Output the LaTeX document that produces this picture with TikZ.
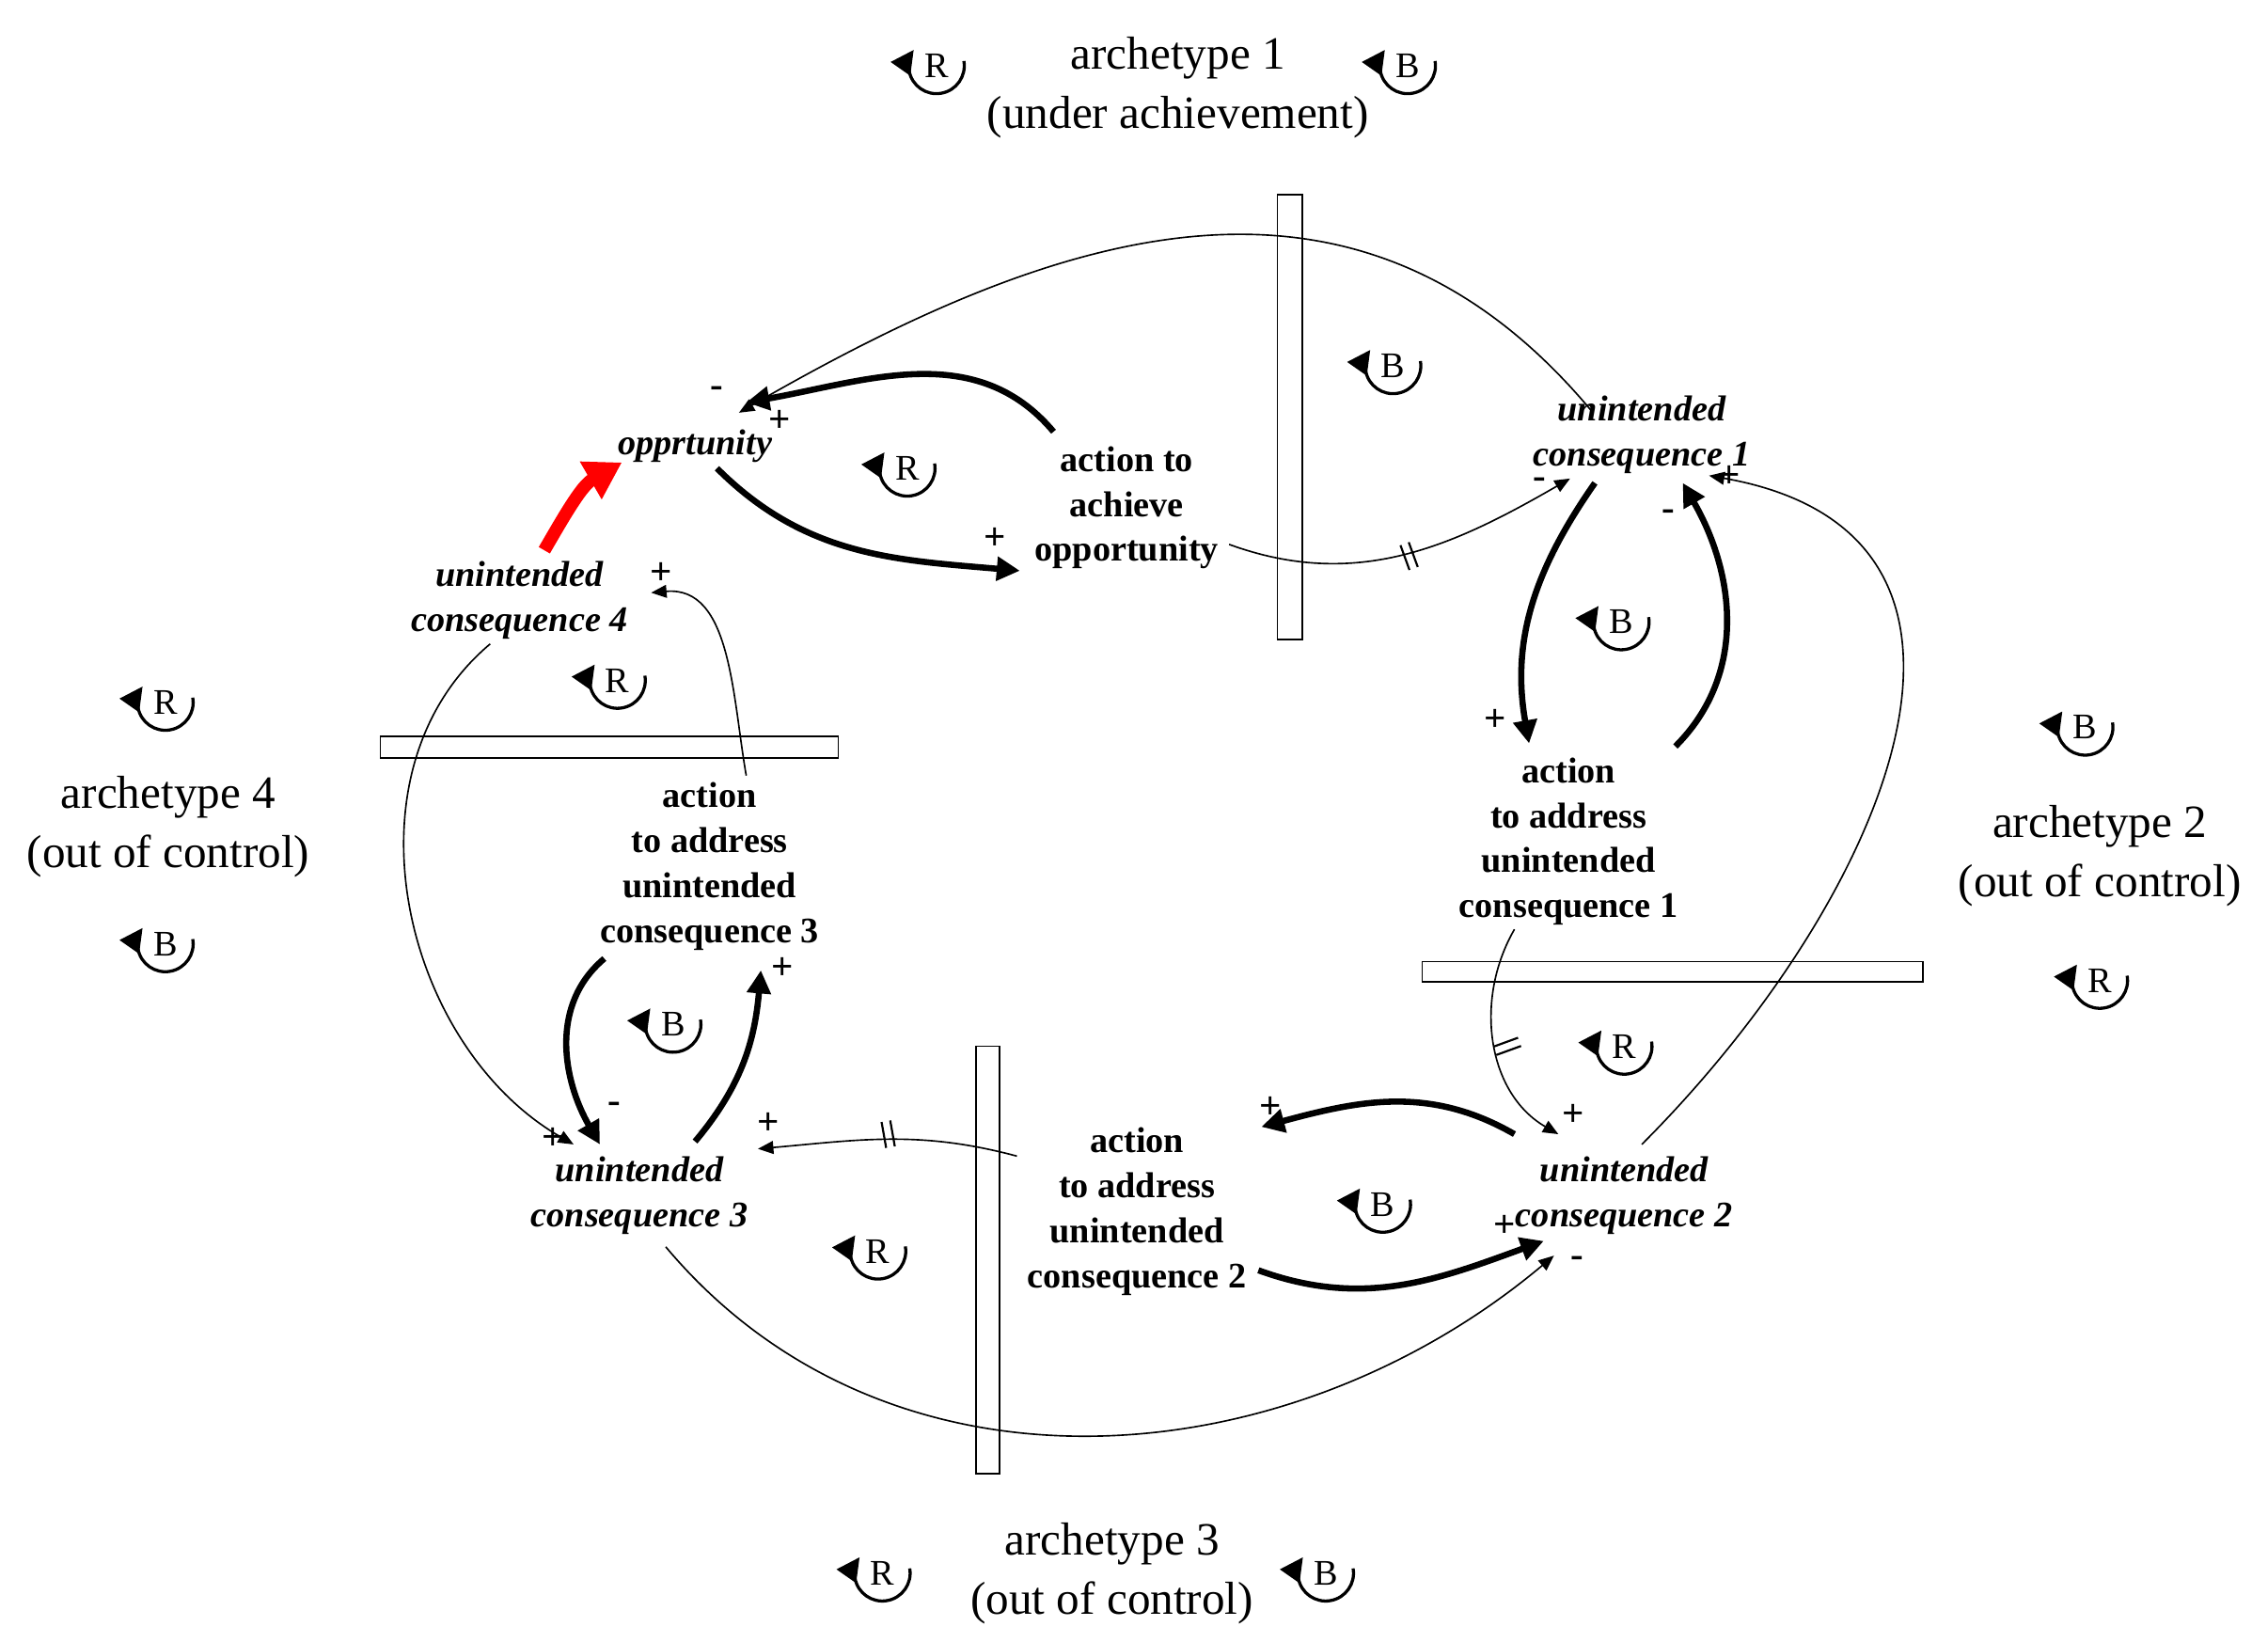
\documentclass[tikz,border=0pt]{standalone}
\usepackage{fontspec}
\setmainfont{Liberation Serif}
\usetikzlibrary{arrows.meta}
\begin{document}
\begin{tikzpicture}[x=0.02cm,y=-0.02cm,
  var/.style={font=\fontsize{14}{17.5}\selectfont\bfseries\itshape,align=center},
  act/.style={font=\fontsize{14}{17.5}\selectfont\bfseries,align=center},
  arch/.style={font=\fontsize{18}{23}\selectfont,align=center},
  thick link/.style={line width=2.4pt,-{Triangle[length=9pt,width=9pt]}},
  thin link/.style={line width=0.6pt,-{Triangle[length=6pt,width=5pt]}},
  bar/.style={draw,line width=0.6pt,fill=white},
  sgn/.style={font=\fontsize{15}{15}\selectfont\bfseries,inner sep=0pt},
  lp/.style={font=\fontsize{14}{14}\selectfont,inner sep=0pt}]
\useasboundingbox (0,0) rectangle (1550,1122);
\newcommand{\loopsym}[4]{%
  \node[lp] (#1) at (#2,#3) {#4};
  \draw[line width=1.2pt,-{Triangle[length=9pt,width=9pt]}] (#1.center) ++(-10:19) arc[start angle=-10,end angle=215,radius=19];}
% bars
\draw[bar] (873,133) rectangle (890,437);
\draw[bar] (972,657) rectangle (1314,671);
\draw[bar] (667,715) rectangle (683,1007);
\draw[bar] (260,503) rectangle (573,518);
% texts
\node[arch] (a1) at (805,60) {archetype 1\\(under achievement)};
\node[arch] (a2) at (1435,585) {archetype 2\\(out of control)};
\node[arch] (a3) at (760,1075) {archetype 3\\(out of control)};
\node[arch] (a4) at (115,565) {archetype 4\\(out of control)};
\node[var] (opp) at (475,305) {opprtunity};
\node[var] (uc1) at (1122,297) {unintended\\consequence 1};
\node[var] (uc2) at (1110,817) {unintended\\consequence 2};
\node[var] (uc3) at (437,817) {unintended\\consequence 3};
\node[var] (uc4) at (355,410) {unintended\\consequence 4};
\node[act] (act0) at (770,347) {action to\\achieve\\opportunity};
\node[act] (act1) at (1072,575) {action\\to address\\unintended\\consequence 1};
\node[act] (act2) at (777,828) {action\\to address\\unintended\\consequence 2};
\node[act] (act3) at (485,592) {action\\to address\\unintended\\consequence 3};
% loops
\loopsym{l1}{640}{45}{R}\loopsym{l2}{962}{45}{B}
\loopsym{l3}{952}{250}{B}\loopsym{l4}{620}{320}{R}
\loopsym{l5}{1108}{425}{B}\loopsym{l6}{1425}{497}{B}
\loopsym{l7}{1435}{670}{R}\loopsym{l8}{1110}{715}{R}
\loopsym{l9}{945}{823}{B}\loopsym{l10}{600}{855}{R}
\loopsym{l11}{603}{1075}{R}\loopsym{l12}{906}{1075}{B}
\loopsym{l13}{460}{700}{B}\loopsym{l14}{422}{465}{R}
\loopsym{l15}{113}{480}{R}\loopsym{l16}{113}{645}{B}
% coordinates
\coordinate (p1) at (1087,280); \coordinate (p2) at (505,282);
\coordinate (p3) at (720,295); \coordinate (p4) at (510,275);
\coordinate (p5) at (490,320); \coordinate (p6) at (697,390);
\coordinate (p7) at (840,372); \coordinate (p8) at (1073,327);
\coordinate (p9) at (1090,330); \coordinate (p10) at (1045,508);
\coordinate (p11) at (1145,510); \coordinate (p12) at (1150,330);
\coordinate (p13) at (1122,782); \coordinate (p14) at (1168,325);
\coordinate (p15) at (1035,635); \coordinate (p16) at (1065,775);
\coordinate (p17) at (1035,775); \coordinate (p18) at (862,770);
\coordinate (p19) at (860,868); \coordinate (p20) at (1055,848);
\coordinate (p21) at (695,790); \coordinate (p22) at (518,785);
\coordinate (p23) at (455,852); \coordinate (p24) at (1062,858);
\coordinate (p25) at (413,655); \coordinate (p26) at (410,782);
\coordinate (p27) at (475,780); \coordinate (p28) at (520,663);
\coordinate (p29) at (510,530); \coordinate (p30) at (445,405);
\coordinate (p31) at (335,440); \coordinate (p32) at (392,782);
\coordinate (p33) at (372,376); \coordinate (p34) at (425,316);
% links
\draw[thin link] (p1) to[out=130,in=30,looseness=1.1] (p2);
\draw[thick link] (p3) to[out=130,in=10] (p4);
\draw[thick link] (p5) to[out=-45,in=175] (p6);
\draw[thin link] (p7) to[out=-20,in=210] (p8);
\draw[thick link] (p9) to[out=235,in=100] (p10);
\draw[thick link] (p11) to[out=45,in=-60] (p12);
\draw[thin link] (p13) to[out=45,in=-10,looseness=1.3] (p14);
\draw[thin link] (p15) to[out=240,in=150] (p16);
\draw[thick link] (p17) to[out=150,in=15] (p18);
\draw[thick link] (p19) to[out=-20,in=200] (p20);
\draw[thin link] (p21) to[out=165,in=5] (p22);
\draw[thin link] (p23) to[out=-50,in=220,looseness=1] (p24);
\draw[thick link] (p25) to[out=220,in=120] (p26);
\draw[thick link] (p27) to[out=50,in=-95] (p28);
\draw[thin link] (p29) to[out=100,in=5] (p30);
\draw[thin link] (p31) to[out=220,in=150] (p32);
\draw[line width=5pt,red,-{Triangle[length=14pt,width=16pt]}] (p33) to[out=60,in=210] (p34);
% delay marks
\foreach \x/\y/\a in {963/380/70, 1030/715/160, 607/775/80}
  \draw[line width=0.8pt] (\x,\y) ++(\a:9) ++(\a+90:3) -- ++(\a+180:18) ++(\a-90:6) -- ++(\a:18);
% signs
\node[sgn] (s1) at (490,268) {-};
\node[sgn] (s2) at (533,288) {+};
\node[sgn] (s3) at (680,368) {+};
\node[sgn] (s4) at (1022,492) {+};
\node[sgn] (s5) at (1140,352) {-};
\node[sgn] (s6) at (1075,762) {+};
\node[sgn] (s7) at (868,757) {+};
\node[sgn] (s8) at (1028,838) {+};
\node[sgn] (s9) at (1078,862) {-};
\node[sgn] (s10) at (525,768) {+};
\node[sgn] (s11) at (420,757) {-};
\node[sgn] (s12) at (535,662) {+};
\node[sgn] (s13) at (452,392) {+};
\node[sgn] (s14) at (378,778) {+};
\node[sgn] (s15) at (1052,330) {-};
\node[sgn] (s16) at (1182,326) {+};
\end{tikzpicture}
\end{document}
